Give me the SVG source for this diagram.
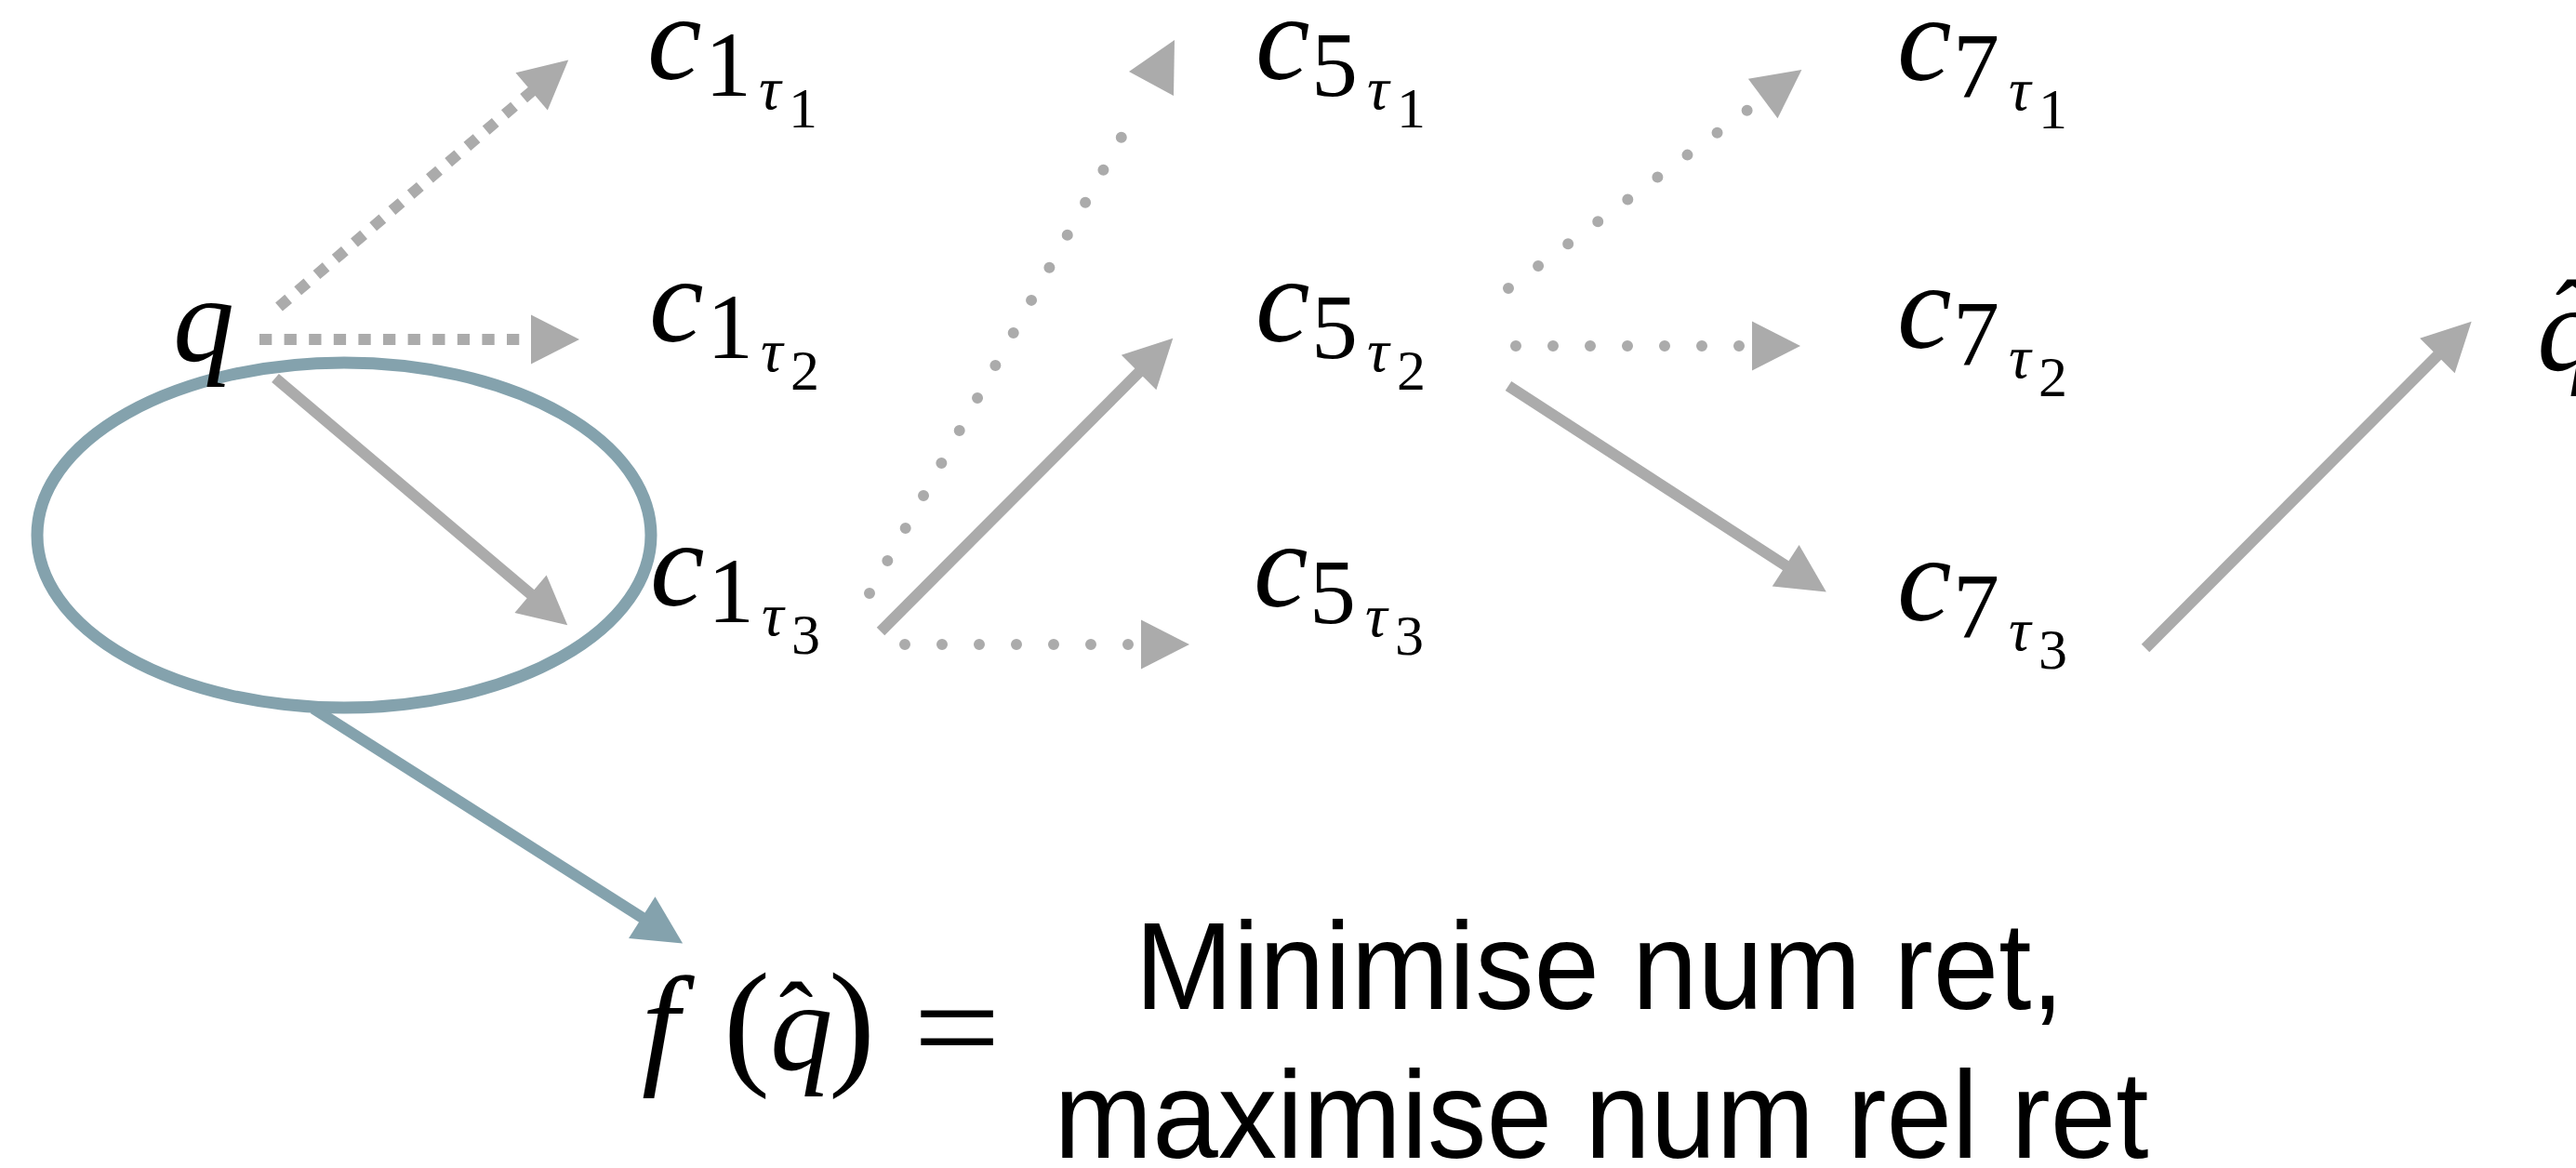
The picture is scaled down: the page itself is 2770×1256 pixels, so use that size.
<svg xmlns="http://www.w3.org/2000/svg" width="2770" height="1256" viewBox="0 0 2770 1256">
<style>
.m{font-family:"Liberation Serif","DejaVu Serif",serif;fill:#000}
.i{font-style:italic}
.b0{font-size:132px}
.s1{font-size:100px}
.s2{font-size:62px}
.tau{font-size:66px;font-style:italic}
.g{stroke:#ABABAB;stroke-width:12;fill:none}
.dash{stroke-dasharray:13.3 13.3}
.dot{stroke-dasharray:0 40;stroke-linecap:round}
.bl{stroke:#84A2AD;stroke-width:12;fill:none}
.ah{fill:#ABABAB}
.t{font-family:"Liberation Sans","Helvetica Neue",Arial,sans-serif;font-size:134px;fill:#000}
</style>
<defs>
<marker id="arr" markerUnits="userSpaceOnUse" markerWidth="54" markerHeight="54" refX="1" refY="26.5" orient="auto" viewBox="0 0 54 54" overflow="visible">
<path d="M0,0 L52,26.5 L0,53 z" fill="#ABABAB"/>
</marker>
<marker id="arrb" markerUnits="userSpaceOnUse" markerWidth="54" markerHeight="54" refX="1" refY="26.5" orient="auto" viewBox="0 0 54 54" overflow="visible">
<path d="M0,0 L52,26.5 L0,53 z" fill="#84A2AD"/>
</marker>
</defs>
<rect width="2770" height="1256" fill="#fff"/>

<g id="selection-ellipse">
<ellipse cx="370" cy="575.5" rx="330" ry="185.5" fill="none" stroke="#84A2AD" stroke-width="13"/>
</g>

<g id="connectors">
<line class="g dash" x1="300" y1="330" x2="572.4" y2="97.7" marker-end="url(#arr)"/>
<line class="g dash" x1="279" y1="365" x2="572" y2="365" marker-end="url(#arr)"/>
<line class="g" x1="296" y1="406.5" x2="571.3" y2="639.4" marker-end="url(#arr)"/>
<path class="g dot" d="M935,638 L1225,113"/>
<polygon class="ah" points="1263,43 1214,77 1262,103"/>
<line class="g" x1="947" y1="679" x2="1225.3" y2="399.8" marker-end="url(#arr)"/>
<path class="g dot" d="M973,693 L1228,693" marker-end="url(#arr)"/>
<path class="g dot" d="M1622,310 L1896.5,105.5" marker-end="url(#arr)"/>
<path class="g dot" d="M1630,372 L1885,372" marker-end="url(#arr)"/>
<line class="g" x1="1622" y1="415" x2="1921" y2="608.8" marker-end="url(#arr)"/>
<line class="g" x1="2307" y1="697" x2="2621.6" y2="381.8" marker-end="url(#arr)"/>
<line class="bl" x1="337" y1="762" x2="691.1" y2="987.1" marker-end="url(#arrb)"/>
</g>

<g id="node-q">
<text class="m i b0" x="186" y="388">q</text>
</g>

<g id="node-c1t1">
<text class="m b0" x="696" y="85"><tspan class="i">c</tspan><tspan class="s1" x="758" y="103">1</tspan><tspan class="tau" x="816" y="117">τ</tspan><tspan class="s2" x="848" y="137">1</tspan></text>
</g>
<g id="node-c1t2">
<text class="m b0" x="698" y="367"><tspan class="i">c</tspan><tspan class="s1" x="760" y="385">1</tspan><tspan class="tau" x="818" y="399">τ</tspan><tspan class="s2" x="850" y="419">2</tspan></text>
</g>
<g id="node-c1t3">
<text class="m b0" x="699" y="651"><tspan class="i">c</tspan><tspan class="s1" x="761" y="669">1</tspan><tspan class="tau" x="819" y="683">τ</tspan><tspan class="s2" x="851" y="703">3</tspan></text>
</g>

<g id="node-c5t1">
<text class="m b0" x="1350" y="85"><tspan class="i">c</tspan><tspan class="s1" x="1410" y="103">5</tspan><tspan class="tau" x="1470" y="117">τ</tspan><tspan class="s2" x="1502" y="137">1</tspan></text>
</g>
<g id="node-c5t2">
<text class="m b0" x="1350" y="367"><tspan class="i">c</tspan><tspan class="s1" x="1410" y="385">5</tspan><tspan class="tau" x="1470" y="399">τ</tspan><tspan class="s2" x="1502" y="419">2</tspan></text>
</g>
<g id="node-c5t3">
<text class="m b0" x="1348" y="652"><tspan class="i">c</tspan><tspan class="s1" x="1408" y="670">5</tspan><tspan class="tau" x="1468" y="684">τ</tspan><tspan class="s2" x="1500" y="704">3</tspan></text>
</g>

<g id="node-c7t1">
<text class="m b0" x="2040" y="86"><tspan class="i">c</tspan><tspan class="s1" x="2100" y="104">7</tspan><tspan class="tau" x="2160" y="118">τ</tspan><tspan class="s2" x="2192" y="138">1</tspan></text>
</g>
<g id="node-c7t2">
<text class="m b0" x="2040" y="374"><tspan class="i">c</tspan><tspan class="s1" x="2100" y="392">7</tspan><tspan class="tau" x="2160" y="406">τ</tspan><tspan class="s2" x="2192" y="426">2</tspan></text>
</g>
<g id="node-c7t3">
<text class="m b0" x="2040" y="667"><tspan class="i">c</tspan><tspan class="s1" x="2100" y="685">7</tspan><tspan class="tau" x="2160" y="699">τ</tspan><tspan class="s2" x="2192" y="719">3</tspan></text>
</g>

<g id="node-qhat">
<text class="m i b0" x="2728" y="398">q</text>
<text class="m" x="2766" y="377" font-size="110" text-anchor="middle">ˆ</text>
</g>

<g id="objective">
<text class="m" y="1150"><tspan class="i" x="690" font-size="145">f</tspan><tspan x="778" font-size="150">(</tspan><tspan class="i" x="828" font-size="135">q</tspan><tspan x="891" font-size="150">)</tspan></text>
<text class="m" x="856" y="1132" font-size="110" text-anchor="middle">ˆ</text>
<text class="m" x="982" y="1155" font-size="150" textLength="94" lengthAdjust="spacingAndGlyphs">=</text>
<text class="t" x="1720" y="1085" text-anchor="middle" textLength="999" lengthAdjust="spacingAndGlyphs">Minimise num ret,</text>
<text class="t" x="1722" y="1245" text-anchor="middle" textLength="1177" lengthAdjust="spacingAndGlyphs">maximise num rel ret</text>
</g>
</svg>
